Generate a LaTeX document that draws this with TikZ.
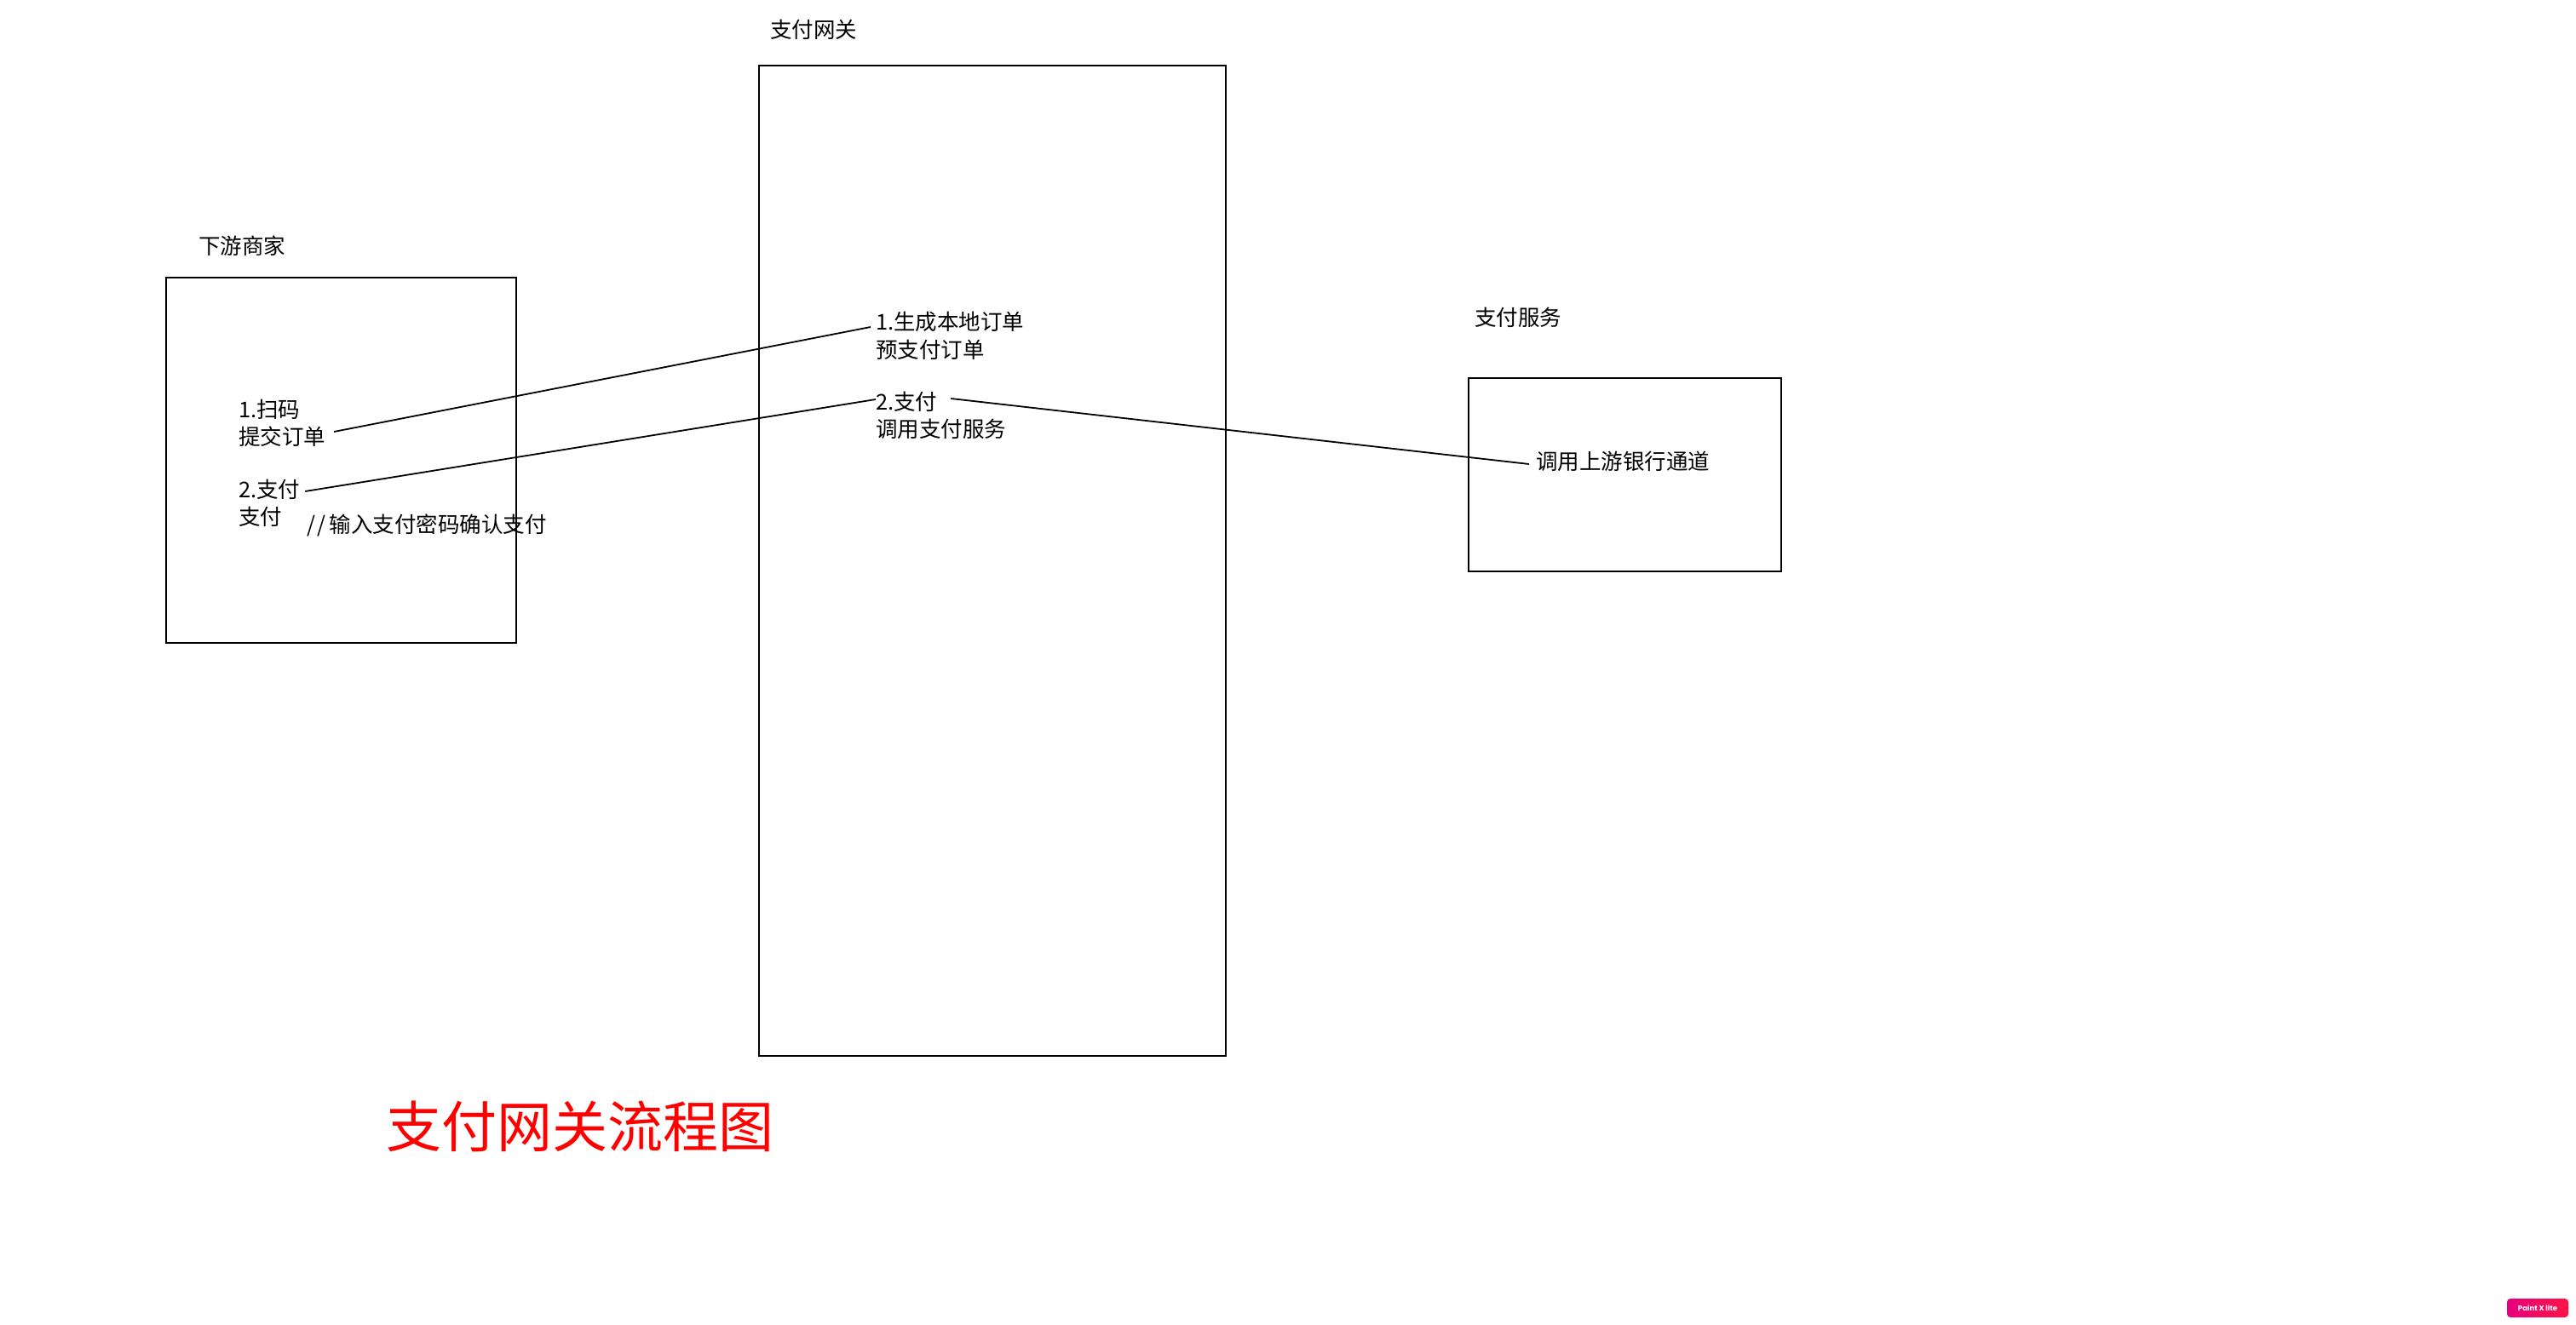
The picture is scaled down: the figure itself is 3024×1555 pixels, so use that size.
\documentclass[tikz,border=0pt]{standalone}
\usepackage{fontspec}
\setmainfont{Noto Sans CJK SC}
\newfontfamily\badgefont{Poppins}
\usetikzlibrary{calc}
\definecolor{badgeA}{RGB}{230,0,126}
\definecolor{badgeB}{RGB}{255,20,70}
\tikzset{
  box/.style={draw=black, line width=2.2pt},
  lbl/.style={inner sep=0pt, outer sep=0pt, anchor=west, font=\fontsize{25.5pt}{32pt}\selectfont},
  conn/.style={draw=black, line width=1.8pt},
}
\begin{document}
\begin{tikzpicture}[x=1pt,y=-1pt]
\useasboundingbox (0,0) rectangle (3024,1555);
\fill[white] (0,0) rectangle (3024,1555);

% boxes
\draw[box] (195,326) rectangle (606,755);
\draw[box] (891,77) rectangle (1439,1240);
\draw[box] (1724,444) rectangle (2091,671);

% titles
\node[lbl] (tMer) at (233,289) {下游商家};
\node[lbl] (tGw) at (904,35) {支付网关};
\node[lbl] (tSvc) at (1731,373) {支付服务};

% merchant texts
\node[lbl] (m1a) at (280,481) {1.扫码};
\node[lbl] (m1b) at (280,513) {提交订单};
\node[lbl] (m2a) at (280,575) {2.支付};
\node[lbl] (m2b) at (280,607) {支付};
\node[lbl] (mNote) at (360,617) {/\kern3pt/\kern4pt输入支付密码确认支付};

% gateway texts
\node[lbl] (g1a) at (1028,378) {1.生成本地订单};
\node[lbl] (g1b) at (1028,411) {预支付订单};
\node[lbl] (g2a) at (1028,472) {2.支付};
\node[lbl] (g2b) at (1028,504) {调用支付服务};

% service text
\node[lbl] (s1) at (1803,542) {调用上游银行通道};

% connectors
\draw[conn] ([shift={(10,-6)}]m1b.east) -- ([shift={(-6,6)}]g1a.west);
\draw[conn] ([shift={(6,2)}]m2a.east) -- ([shift={(0,-3)}]g2a.west);
\draw[conn] ([shift={(16,-4)}]g2a.east) -- ([shift={(-8,3)}]s1.west);

% big red title
\node[inner sep=0pt, anchor=west, text=red, font=\fontsize{65pt}{70pt}\selectfont] (bigTitle) at (453,1323) {支付网关流程图};

% badge
\node[rounded corners=4pt, left color=badgeA, right color=badgeB, minimum width=72pt, minimum height=22pt, inner sep=0pt, text=white, font=\badgefont\bfseries\fontsize{8.5pt}{9pt}\selectfont] (badge) at (2979,1536) {Paint X lite};
\end{tikzpicture}
\end{document}
